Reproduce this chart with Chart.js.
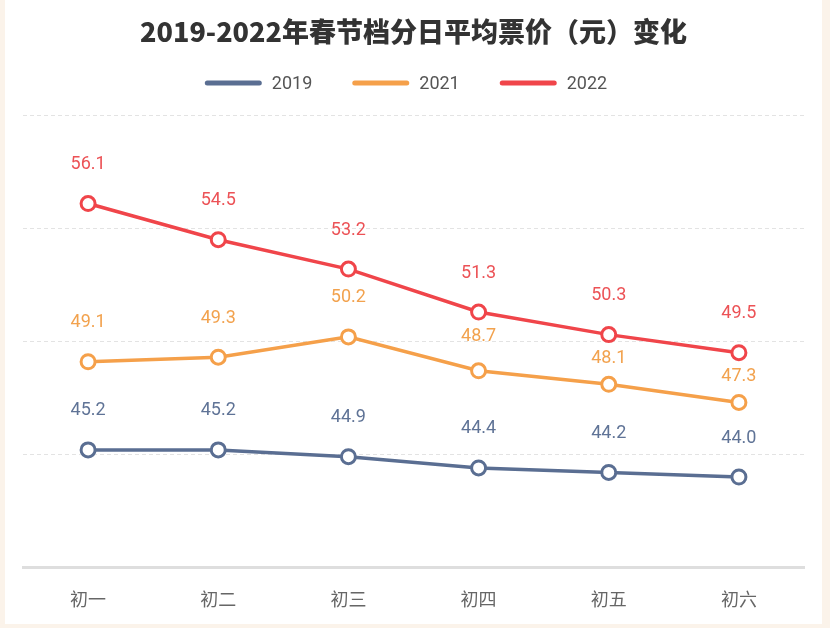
<!DOCTYPE html>
<html>
<head>
<meta charset="utf-8">
<script src="https://cdn.jsdelivr.net/npm/chart.js@4"></script>
<style>
  html, body { margin: 0; padding: 0; background: #fbf3ea; }
  #wrap { position: absolute; left: 5px; top: 0; width: 817px; height: 624px; background: #ffffff; }
  #c { position: absolute; left: 0; top: 0; }
</style>
</head>
<body>
<div id="wrap"></div>
<canvas id="c" width="830" height="628"></canvas>
<script>
const categories = ['初一', '初二', '初三', '初四', '初五', '初六'];
const seriesNames = ['2019', '2021', '2022'];
const values2019 = [45.2, 45.2, 44.9, 44.4, 44.2, 44.0];
const values2021 = [49.1, 49.3, 50.2, 48.7, 48.1, 47.3];
const values2022 = [56.1, 54.5, 53.2, 51.3, 50.3, 49.5];
const yTicks = [40, 45, 50, 55, 60];
const titleText = '2019-2022年春节档分日平均票价（元）变化';

const colors = ['#5a6e92', '#f5a04a', '#f0454a'];
const labelColors = ['#5f7396', '#f2a24e', '#ec5256'];
const seriesValues = [values2019, values2021, values2022];

const datasets = seriesNames.map((name, i) => ({
  label: name,
  data: seriesValues[i],
  borderColor: colors[i],
  backgroundColor: '#ffffff',
  borderWidth: 3.5,
  pointRadius: 7,
  pointHoverRadius: 7,
  pointBorderWidth: 3,
  pointBackgroundColor: '#ffffff',
  pointBorderColor: colors[i],
  tension: 0,
  fill: false
}));

const valueLabels = {
  id: 'valueLabels',
  afterDatasetsDraw(chart) {
    const ctx = chart.ctx;
    ctx.save();
    ctx.font = '18px Roboto';
    ctx.textAlign = 'center';
    ctx.textBaseline = 'middle';
    chart.data.datasets.forEach((ds, di) => {
      const meta = chart.getDatasetMeta(di);
      meta.data.forEach((pt, idx) => {
        let y = pt.y - 39;
        chart.data.datasets.forEach((o, oi) => {
          if (oi === di) return;
          const op = chart.getDatasetMeta(oi).data[idx];
          if (Math.abs(op.y - y) < 20 && op.y < pt.y) {
            y = Math.min(op.y + 24, pt.y - 21);
          }
        });
        ctx.fillStyle = labelColors[di];
        ctx.fillText(ds.data[idx].toFixed(1), pt.x, y);
      });
    });
    ctx.restore();
  }
};

const customLegend = {
  id: 'customLegend',
  afterDraw(chart) {
    const ctx = chart.ctx;
    ctx.save();
    ctx.font = '18px Roboto';
    ctx.textBaseline = 'middle';
    const lineW = 57, lineH = 5, gap = 10, spacing = 40, cy = 83;
    const items = chart.data.datasets.map(d => ({ text: d.label, color: d.borderColor, w: ctx.measureText(d.label).width }));
    const total = items.reduce((s, it) => s + lineW + gap + it.w, 0) + spacing * (items.length - 1);
    let x = 406 - total / 2;
    items.forEach(it => {
      ctx.fillStyle = it.color;
      ctx.beginPath();
      ctx.roundRect(x, cy - lineH / 2, lineW, lineH, lineH / 2);
      ctx.fill();
      ctx.fillStyle = '#555555';
      ctx.textAlign = 'left';
      ctx.fillText(it.text, x + lineW + gap, cy + 1);
      x += lineW + gap + it.w + spacing;
    });
    ctx.restore();
  }
};

new Chart(document.getElementById('c'), {
  type: 'line',
  data: { labels: categories, datasets },
  plugins: [valueLabels, customLegend],
  options: {
    responsive: false,
    animation: false,
    events: [],
    layout: { padding: { left: 23, right: 26, top: 0, bottom: -3 } },
    plugins: {
      legend: { display: false },
      tooltip: { enabled: false },
      title: {
        display: true,
        text: titleText,
        color: '#333333',
        font: { family: '"Noto Sans CJK SC"', size: 27, weight: '900' },
        padding: { top: 16, bottom: 67 },
        align: 'center'
      }
    },
    scales: {
      x: {
        offset: true,
        grid: { display: false, drawTicks: false },
        border: { display: true, color: '#dedede', width: 3 },
        ticks: { color: '#666666', padding: 21, font: { family: '"Noto Sans CJK SC"', size: 18 } }
      },
      y: {
        min: 40,
        max: 60,
        afterBuildTicks(scale) { scale.ticks = yTicks.map(v => ({ value: v })); },
        ticks: { display: false },
        grid: { color: '#e3e3e3', lineWidth: 1, drawTicks: false },
        border: { display: false, dash: [4, 3] }
      }
    }
  }
});
</script>
</body>
</html>
